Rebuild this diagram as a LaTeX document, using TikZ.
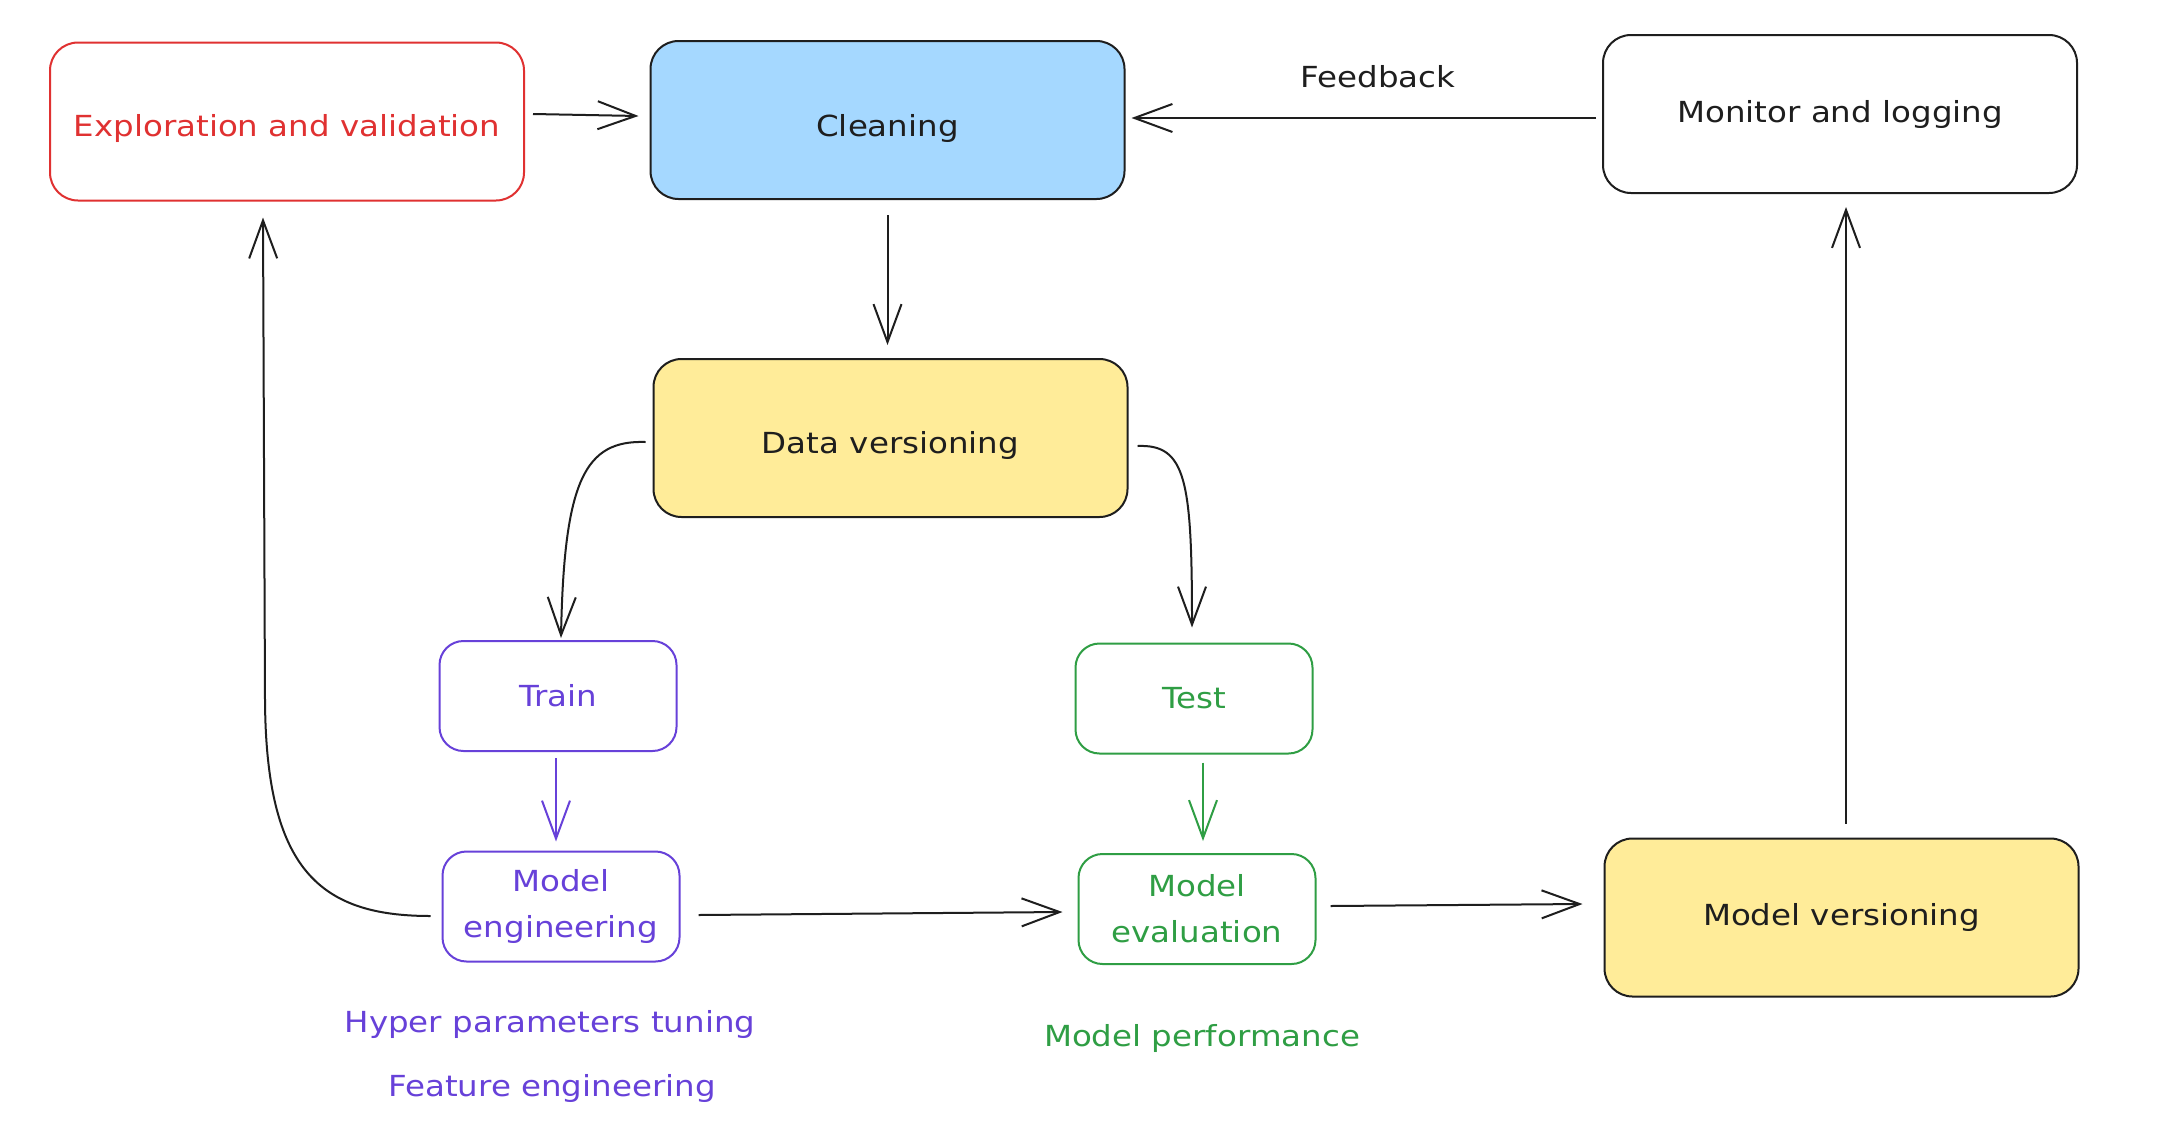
\documentclass[tikz,border=0pt]{standalone}
\usepackage{fontspec}
\setmainfont{DejaVu Sans}[FakeStretch=1.12]
\usetikzlibrary{arrows.meta,calc}
\definecolor{ink}{HTML}{1E1E1E}
\definecolor{redink}{HTML}{E03131}
\definecolor{greenink}{HTML}{2F9E44}
\definecolor{violetink}{HTML}{6741D9}
\definecolor{bluefill}{HTML}{A5D8FF}
\definecolor{yellowfill}{HTML}{FFEC99}
\newcommand{\lowertext}[2]{\raisebox{-#1}[\height][\depth]{#2}}
\tikzset{
  box/.style={draw=ink, line width=2pt, rounded corners=28pt, align=center,
    text=ink, inner sep=0pt, font=\fontsize{29}{46}\selectfont},
  bigbox/.style={box, minimum width=474pt, minimum height=158pt},
  smallbox/.style={box, rounded corners=24pt, minimum width=237pt, minimum height=110pt},
  conn/.style={draw=ink, line width=2pt, -{Straight Barb[length=38pt,width=28pt,line width=2pt]}},
  lbl/.style={font=\fontsize{29}{34}\selectfont, inner sep=0pt}
}
\begin{document}
\begin{tikzpicture}[x=1pt, y=-1pt]
\useasboundingbox[fill=white] (0,0) rectangle (2178,1138);
% nodes
\node[bigbox, draw=redink, text=redink] (expl) at (287,121.5) {\lowertext{7pt}{Exploration and validation}};
\node[bigbox, fill=bluefill] (clean) at (887.5,120) {\lowertext{8pt}{Cleaning}};
\node[bigbox] (monitor) at (1840,114) {Monitor and logging};
\node[bigbox, fill=yellowfill] (datav) at (890.5,438) {\lowertext{7pt}{Data versioning}};
\node[smallbox, draw=violetink, text=violetink] (train) at (558,696) {Train};
\node[smallbox, draw=greenink, text=greenink] (test) at (1194,698.5) {Test};
\node[smallbox, draw=violetink, text=violetink] (modeng) at (561,906.5) {Model\\engineering};
\node[smallbox, draw=greenink, text=greenink] (modeval) at (1197,909) {Model\\evaluation};
\node[bigbox, fill=yellowfill] (modver) at (1841.5,917.5) {Model versioning};
% labels
\node[lbl, text=ink] (fb) at (1378,77) {Feedback};
\node[lbl, text=violetink] (hyper) at (550,1024) {Hyper parameters tuning};
\node[lbl, text=violetink] (feat) at (552,1088) {Feature engineering};
\node[lbl, text=greenink] (perf) at (1202,1038) {Model performance};
% connector anchors (offsets in picture units, y downward)
\coordinate (a1s) at ($(expl.east)+(8,-7.5)$);
\coordinate (a1e) at ($(clean.west)+(-11,-4)$);
\coordinate (a2s) at ($(clean.south)+(0,15)$);
\coordinate (a2e) at ($(datav.north)+(-3,-13)$);
\coordinate (a3s) at ($(monitor.west)+(-6,4)$);
\coordinate (a3e) at ($(clean.east)+(6,-2)$);
\coordinate (a4s) at ($(datav.west)+(-7,4)$);
\coordinate (a4e) at ($(train.north)+(3,-2)$);
\coordinate (a5s) at ($(datav.east)+(9,8)$);
\coordinate (a5e) at ($(test.north)+(-2,-15)$);
\coordinate (a6s) at ($(train.south)+(-2,6)$);
\coordinate (a6e) at ($(modeng.north)+(-5,-9)$);
\coordinate (a7s) at ($(test.south)+(9,8)$);
\coordinate (a7e) at ($(modeval.north)+(6,-12)$);
\coordinate (a8s) at ($(modeng.east)+(18,8.5)$);
\coordinate (a8e) at ($(modeval.west)+(-15,3)$);
\coordinate (a9s) at ($(modeval.east)+(14,-3)$);
\coordinate (a9e) at ($(modver.west)+(-21,-13.5)$);
\coordinate (a10s) at ($(modver.north)+(4.5,-14)$);
\coordinate (a10e) at ($(monitor.south)+(6,13)$);
\coordinate (a11s) at ($(modeng.west)+(-11,9.5)$);
\coordinate (a11e) at ($(expl.south)+(-24,16)$);
% connectors
\draw[conn] (a1s) -- (a1e);
\draw[conn] (a2s) -- (a2e);
\draw[conn] (a3s) -- (a3e);
\draw[conn] (a4s) .. controls (585,440) and (564,480) .. (a4e);
\draw[conn] (a5s) .. controls (1186,444) and (1192,480) .. (a5e);
\draw[conn, draw=violetink] (a6s) -- (a6e);
\draw[conn, draw=greenink] (a7s) -- (a7e);
\draw[conn] (a8s) -- (a8e);
\draw[conn] (a9s) -- (a9e);
\draw[conn] (a10s) -- (a10e);
\draw[conn] (a11s) .. controls (320,916) and (266,870) .. (265,700) -- (a11e);
\end{tikzpicture}
\end{document}
